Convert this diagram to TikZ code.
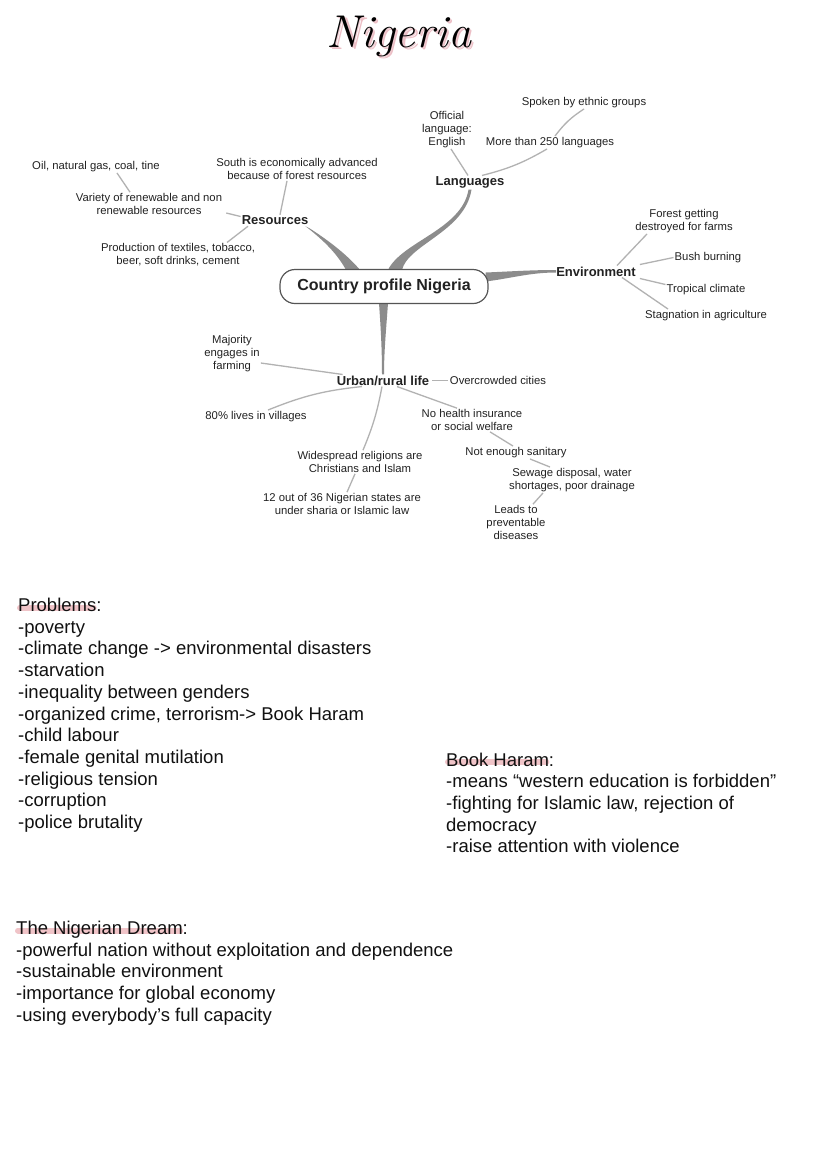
\documentclass[tikz,border=0pt]{standalone}
\usepackage{fontspec}
\newfontfamily\sansf{Liberation Sans}
\usetikzlibrary{calc}
\definecolor{txt}{HTML}{222222}
\definecolor{bodytxt}{HTML}{111111}
\definecolor{linkgray}{HTML}{B2B2B2}
\definecolor{branchgray}{HTML}{8C8C8C}
\definecolor{boxline}{HTML}{555555}
\definecolor{hlpink}{RGB}{240,196,200}
\definecolor{shadowpink}{RGB}{236,190,197}
\pgfdeclarelayer{bg}
\pgfsetlayers{bg,main}
\tikzset{
  leaf/.style={font=\sansf\fontsize{11.3}{13}\selectfont, text=txt, align=center, inner sep=1pt},
  topic/.style={font=\sansf\bfseries\fontsize{13}{15}\selectfont, text=txt, inner sep=1pt},
  centerbox/.style={draw=boxline, line width=1.2pt, fill=white, rounded corners=15pt,
    minimum width=208pt, minimum height=34pt, font=\sansf\bfseries\fontsize{16}{18}\selectfont, text=txt},
  link/.style={draw=linkgray, line width=1.3pt},
  branch/.style={fill=branchgray},
  body/.style={font=\sansf\fontsize{18.5}{21.7}\selectfont, text=bodytxt, inner sep=0pt, anchor=base west},
  hl/.style={draw=hlpink, line width=6pt, line cap=round},
  titlef/.style={font=\fontsize{46}{52}\selectfont\itshape, inner sep=0pt, anchor=base},
}
\begin{document}
\begin{tikzpicture}[x=1pt,y=-1pt]
\useasboundingbox (0,0) rectangle (828,1171);
\begin{pgfonlayer}{bg}
\fill[white] (0,0) rectangle (828,1171);
\end{pgfonlayer}

% title with pink shadow
\node[titlef, text=black] (title) at (399,47)
  {\rlap{\kern2.5pt\raisebox{-2.5pt}{\color{shadowpink}Nigeria}}\rlap{\kern1.2pt\raisebox{-1.2pt}{\color{shadowpink!80!white}Nigeria}}Nigeria};

\begin{scope}[shift={(0,1.5)}]
% topic nodes
\node[topic] (lang) at (470,181) {Languages};
\node[topic] (res) at (275,219) {Resources};
\node[topic] (env) at (596,270) {Environment};
\node[topic] (urb) at (383,379) {Urban/rural life};

% leaves
\node[leaf] (off) at (447,128) {Official\\language:\\English};
\node[leaf] (more) at (550,141) {More than 250 languages};
\node[leaf] (spoken) at (584,101) {Spoken by ethnic groups};
\node[leaf] (south) at (297,167.5) {South is economically advanced\\because of forest resources};
\node[leaf] (variety) at (149,202.5) {Variety of renewable and non\\renewable resources};
\node[leaf] (oil) at (96,165) {Oil, natural gas, coal, tine};
\node[leaf] (prod) at (178,253.5) {Production of textiles, tobacco,\\beer, soft drinks, cement};
\node[leaf] (forest) at (684,219.5) {Forest getting\\destroyed for farms};
\node[leaf] (bush) at (708,256) {Bush burning};
\node[leaf] (trop) at (706,288) {Tropical climate};
\node[leaf] (stag) at (706,314) {Stagnation in agriculture};
\node[leaf] (over) at (498,379) {Overcrowded cities};
\node[leaf] (maj) at (232,352.5) {Majority\\engages in\\farming};
\node[leaf] (vill) at (256,415) {80\% lives in villages};
\node[leaf] (hlth) at (472,418.5) {No health insurance\\or social welfare};
\node[leaf] (san) at (516,451) {Not enough sanitary};
\node[leaf] (sew) at (572,478.5) {Sewage disposal, water\\shortages, poor drainage};
\node[leaf] (leads) at (516,521) {Leads to\\preventable\\diseases};
\node[leaf] (rel) at (360,460.5) {Widespread religions are\\Christians and Islam};
\node[leaf] (twelve) at (342,502.5) {12 out of 36 Nigerian states are\\under sharia or Islamic law};

% central node outline used as anchor (drawn after branches)
\coordinate (boxc) at (384,285);
\path (boxc) node[centerbox, draw=none, fill=none, text=white] (box) {Country profile Nigeria};

% thick tapered branches
\fill[branch] ($(box.north)+(-38,1)$) .. controls (336,250) and (320,236) .. ($(res.south east)+(-4,0)$)
   -- ($(res.south east)+(0,2)$) .. controls (327,238) and (346,252) .. ($(box.north)+(-24,1)$) -- cycle;
\fill[branch] ($(box.north)+(4,1)$) .. controls (402,240) and (462,228) .. ($(lang.south)+(-1.5,0)$)
   -- ($(lang.south)+(1.5,0)$) .. controls (465,230) and (408,243) .. ($(box.north)+(18,1)$) -- cycle;
\fill[branch] ($(box.east)+(-3,-14)$) .. controls (510,270) and (530,268.5) .. ($(env.west)+(1,-1.5)$)
   -- ($(env.west)+(1,1)$) .. controls (530,271) and (510,277) .. ($(box.east)+(-3,-5)$) -- cycle;
\fill[branch] ($(box.south)+(-5,-1)$) .. controls (381,330) and (382,350) .. ($(urb.north)+(-1,0)$)
   -- ($(urb.north)+(1,0)$) .. controls (384,350) and (386,330) .. ($(box.south)+(4,-1)$) -- cycle;

\node[centerbox] (boxfront) at (boxc) {Country profile Nigeria};

% thin connectors
\draw[link] ([xshift=4pt]off.south) -- ([xshift=-2pt]lang.north);
\draw[link] ([xshift=-3pt]more.south) to[bend left=8] ([xshift=12pt]lang.north);
\draw[link] (spoken.south) to[bend right=10] ([xshift=5pt]more.north);
\draw[link] ([xshift=21pt]oil.south) -- ([xshift=-19pt]variety.north);
\draw[link] ([xshift=3pt,yshift=-9pt]variety.east) -- ([yshift=4pt]res.west);
\draw[link] ([xshift=-10pt]south.south) -- ([xshift=5pt]res.north);
\draw[link] ([xshift=49pt]prod.north) -- ([xshift=-27pt]res.south);
\draw[link] ([xshift=-37pt]forest.south) -- ([xshift=21pt]env.north);
\draw[link] (bush.west) -- ([xshift=3pt,yshift=7pt]env.east);
\draw[link] ([yshift=5pt]trop.west) -- ([xshift=3pt,yshift=-7pt]env.east);
\draw[link] ([xshift=-38pt]stag.north) -- ([xshift=26pt]env.south);
\draw[link] ([yshift=-9pt]maj.east) -- ([xshift=7pt]urb.north west);
\draw[link] ([xshift=2pt]urb.east) -- ([xshift=-1pt]over.west);
\draw[link] ([xshift=12pt]vill.north) to[bend left=8] ([xshift=-21pt]urb.south);
\draw[link] ([xshift=-15pt]hlth.north) -- ([xshift=14pt]urb.south);
\draw[link] ([xshift=-1pt]urb.south) to[bend left=6] ([xshift=3pt]rel.north);
\draw[link] ([xshift=18pt]hlth.south) -- ([xshift=-3pt]san.north);
\draw[link] ([xshift=14pt]san.south) -- ([xshift=-22pt]sew.north);
\draw[link] ([xshift=-29pt]sew.south) -- ([xshift=17pt]leads.north);
\draw[link] ([xshift=-5pt]rel.south) -- ([xshift=5pt]twelve.north);
\end{scope}

% lower text blocks
\node[body] (ph) at (18,611.5) {Problems:};
\foreach \t [count=\i] in {{-poverty},{-climate change -> environmental disasters},{-starvation},
  {-inequality between genders},{-organized crime, terrorism-> Book Haram},{-child labour},
  {-female genital mutilation},{-religious tension},{-corruption},{-police brutality}}
  \node[body] (p\i) at (18,{611.5+21.7*\i}) {\t};

\node[body] (bh) at (446,766) {Book Haram:};
\foreach \t [count=\i] in {{-means “western education is forbidden”},{-fighting for Islamic law, rejection of},
  {democracy},{-raise attention with violence}}
  \node[body] (b\i) at (446,{766+21.7*\i}) {\t};

\node[body] (dh) at (16,934.5) {The Nigerian Dream:};
\foreach \t [count=\i] in {{-powerful nation without exploitation and dependence},{-sustainable environment},
  {-importance for global economy},{-using everybody’s full capacity}}
  \node[body] (d\i) at (16,{934.5+21.7*\i}) {\t};

\begin{pgfonlayer}{bg}
\draw[hl] ([xshift=2pt,yshift=4pt]ph.base west) -- ([xshift=-8pt,yshift=4pt]ph.base east);
\draw[hl] ([xshift=2pt,yshift=4pt]bh.base west) -- ([xshift=-8pt,yshift=4pt]bh.base east);
\draw[hl] ([xshift=2pt,yshift=4pt]dh.base west) -- ([xshift=-8pt,yshift=4pt]dh.base east);
\end{pgfonlayer}
\end{tikzpicture}
\end{document}
